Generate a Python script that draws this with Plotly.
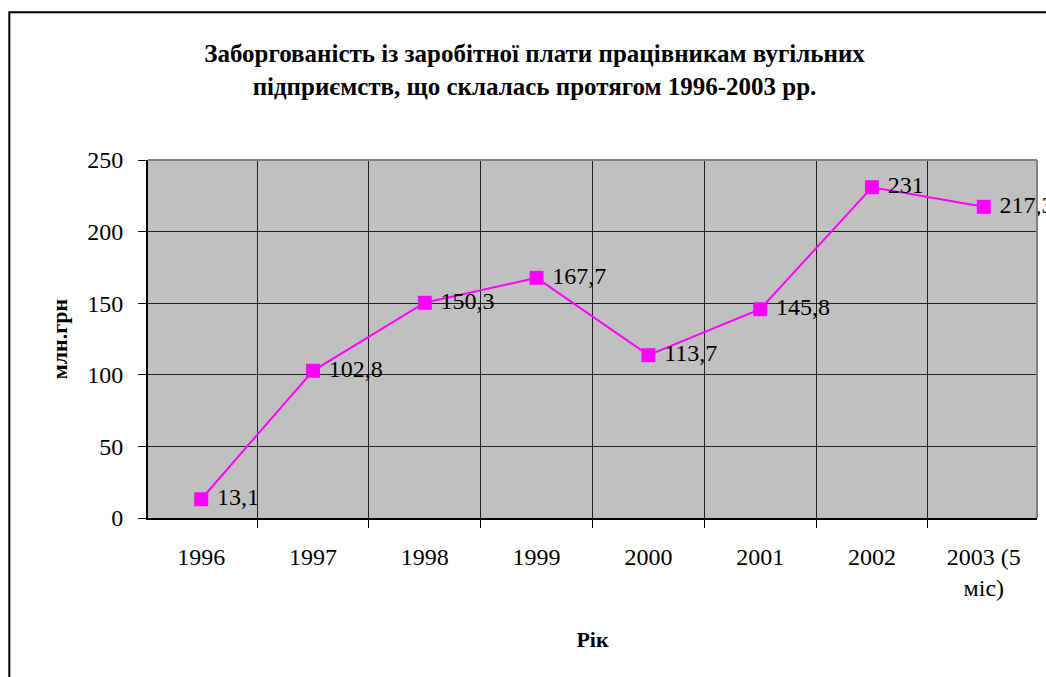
import plotly.graph_objects as go

# дані
roky = ['1996', '1997', '1998', '1999', '2000', '2001', '2002', '2003 (5<br>міс)']
borg = [13.1, 102.8, 150.3, 167.7, 113.7, 145.8, 231, 217.3]
pidpysy = [str(v).replace('.', ',') for v in borg]

SERIF = 'Liberation Serif'

fig = go.Figure()
fig.add_trace(go.Scatter(
    x=roky,
    y=borg,
    mode='lines+markers+text',
    text=[' ' + t for t in pidpysy],
    textposition='middle right',
    textfont=dict(family=SERIF, size=24, color='black'),
    line=dict(color='#ff00ff', width=2),
    marker=dict(symbol='square', size=14, color='#ff00ff'),
    cliponaxis=False,
    showlegend=False
))

fig.update_layout(
    width=1046, height=677,
    paper_bgcolor='white',
    plot_bgcolor='#c0c0c0',
    margin=dict(l=148, r=9, t=160, b=159, autoexpand=False),
    font=dict(family=SERIF, size=24, color='black'),
    title=dict(
        text='<b>Заборгованість із заробітної плати працівникам вугільних<br>'
             'підприємств, що склалась протягом 1996-2003 рр.</b>',
        x=0.511, xanchor='center', xref='container',
        y=0.908, yanchor='middle', yref='container',
        font=dict(family=SERIF, size=25)
    ),
    xaxis=dict(
        type='category',
        tickson='boundaries',
        automargin=False,
        showgrid=True, gridcolor='#202020', gridwidth=1,
        ticks='outside', ticklen=8, tickcolor='black',
        showline=True, linecolor='black', linewidth=2,
        ticklabelstandoff=16,
        title=dict(text='<b>Рік</b>', font=dict(size=22), standoff=32),
        tickangle=0
    ),
    yaxis=dict(
        range=[0, 250], dtick=50,
        automargin=False,
        showgrid=True, gridcolor='#202020', gridwidth=1,
        ticks='outside', ticklen=8, tickcolor='black',
        showline=True, linecolor='black', linewidth=2,
        zeroline=False,
        ticklabelstandoff=10,
        title=dict(text='<b>млн.грн</b>', font=dict(size=22), standoff=14)
    ),
    shapes=[
        # сіра рамка області побудови зверху і справа
        dict(type='line', xref='paper', yref='paper', x0=0, x1=1, y0=1, y1=1,
             line=dict(color='#808080', width=2)),
        dict(type='line', xref='paper', yref='paper', x0=1, x1=1, y0=0, y1=1,
             line=dict(color='#808080', width=2)),
        # чорна рамка діаграми
        dict(type='rect', xref='paper', yref='paper',
             x0=-0.156, x1=1.2, y0=-0.6, y1=1.413,
             line=dict(color='black', width=2))
    ]
)

# прибираємо стандартний відступ сторінки, щоб графік стояв у куті вікна
fig.write_html('out.html', config={'displayModeBar': False},
               post_script="document.body.style.margin='0';")
